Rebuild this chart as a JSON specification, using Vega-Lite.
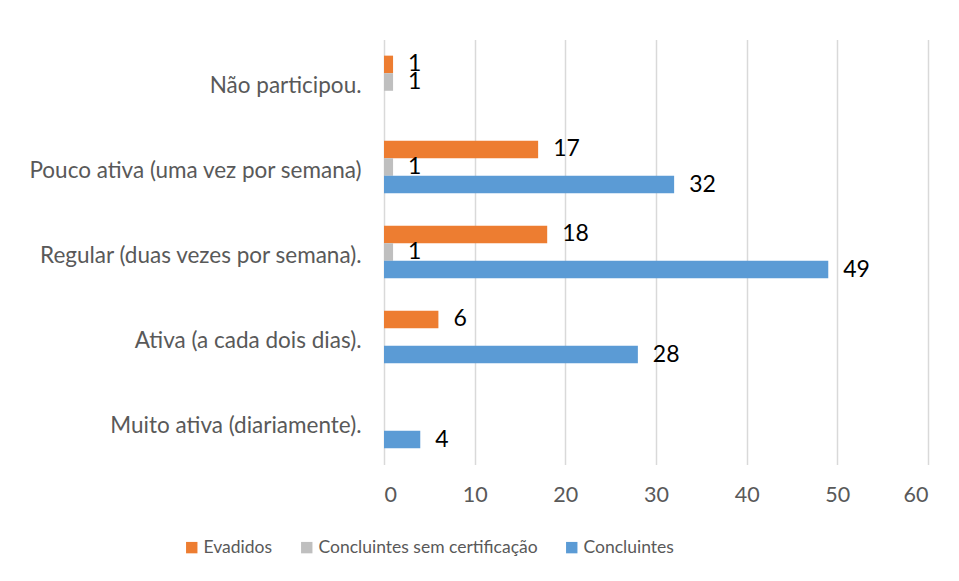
{
  "$schema": "https://vega.github.io/schema/vega-lite/v6.json",
  "width": 544,
  "height": 425,
  "autosize": {"type": "none"},
  "padding": {"left": 384, "top": 39.5, "right": 31, "bottom": 116.5},
  "background": "white",
  "config": {"view": {"stroke": null}, "font": "Lato"},
  "data": {
    "values": [
      {"cat": "Não participou.", "series": "Evadidos", "value": 1},
      {"cat": "Não participou.", "series": "Concluintes sem certificação", "value": 1},
      {"cat": "Pouco ativa (uma vez por semana)", "series": "Evadidos", "value": 17},
      {"cat": "Pouco ativa (uma vez por semana)", "series": "Concluintes sem certificação", "value": 1},
      {"cat": "Pouco ativa (uma vez por semana)", "series": "Concluintes", "value": 32},
      {"cat": "Regular (duas vezes por semana).", "series": "Evadidos", "value": 18},
      {"cat": "Regular (duas vezes por semana).", "series": "Concluintes sem certificação", "value": 1},
      {"cat": "Regular (duas vezes por semana).", "series": "Concluintes", "value": 49},
      {"cat": "Ativa (a cada dois dias).", "series": "Evadidos", "value": 6},
      {"cat": "Ativa (a cada dois dias).", "series": "Concluintes", "value": 28},
      {"cat": "Muito ativa (diariamente).", "series": "Concluintes", "value": 4}
    ]
  },
  "encoding": {
    "y": {
      "field": "cat",
      "type": "nominal",
      "scale": {
        "domain": ["Não participou.", "Pouco ativa (uma vez por semana)", "Regular (duas vezes por semana).", "Ativa (a cada dois dias).", "Muito ativa (diariamente)."],
        "paddingInner": 0.38,
        "paddingOuter": 0.19
      },
      "axis": {
        "title": null,
        "domain": false,
        "ticks": false,
        "tickSize": 0,
        "labelFontSize": 22.5,
        "labelColor": "#595959",
        "labelPadding": 23,
        "labelLimit": 500,
        "labelOffset": 4
      }
    },
    "yOffset": {
      "field": "series",
      "type": "nominal",
      "scale": {
        "domain": ["Evadidos", "Concluintes sem certificação", "Concluintes"],
        "paddingInner": 0,
        "paddingOuter": 0
      }
    },
    "x": {
      "field": "value",
      "type": "quantitative",
      "scale": {"domain": [0, 60], "nice": false},
      "axis": {
        "title": null,
        "values": [0, 10, 20, 30, 40, 50, 60],
        "domain": false,
        "ticks": false,
        "tickSize": 0,
        "labelFontSize": 21.5,
        "labelColor": "#595959",
        "labelBaseline": "middle",
        "labelPadding": 31,
        "gridColor": "#D9D9D9",
        "gridWidth": 1.5
      }
    }
  },
  "layer": [
    {
      "mark": {"type": "bar"},
      "encoding": {
        "color": {
          "field": "series",
          "type": "nominal",
          "scale": {
            "domain": ["Evadidos", "Concluintes sem certificação", "Concluintes"],
            "range": ["#ED7D31", "#BFBFBF", "#5B9BD5"]
          },
          "legend": {
            "title": null,
            "orient": "none",
            "legendX": -201,
            "legendY": 499,
            "direction": "horizontal",
            "symbolType": "square",
            "symbolSize": 130,
            "symbolStrokeWidth": 0,
            "labelFontSize": 17.5,
            "labelLimit": 500,
            "labelColor": "#595959",
            "columnPadding": 25,
            "symbolOffset": 0,
            "labelOffset": 3,
            "padding": 0
          }
        }
      }
    },
    {
      "mark": {"type": "text", "align": "left", "baseline": "middle", "dx": 15, "fontSize": 23, "color": "#000000"},
      "encoding": {"text": {"field": "value", "type": "quantitative"}}
    }
  ]
}
